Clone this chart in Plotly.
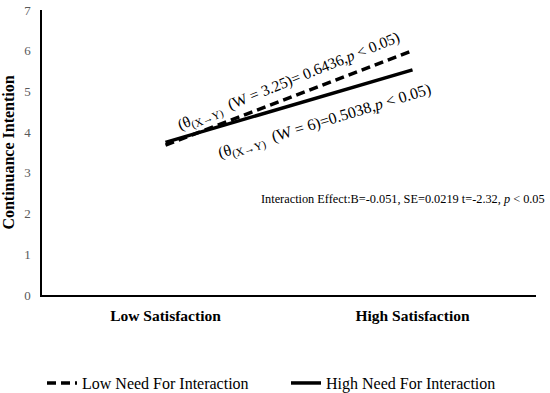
import plotly.graph_objects as go

categories = ["Low Satisfaction", "High Satisfaction"]
low_need = [3.68, 6.00]
high_need = [3.75, 5.53]
series_names = ["Low Need For Interaction", "High Need For Interaction"]
y_ticks = [0, 1, 2, 3, 4, 5, 6, 7]

FONT = "Liberation Serif, Times New Roman, serif"

fig = go.Figure()
fig.add_trace(go.Scatter(
    x=categories, y=low_need, mode="lines", name=series_names[0],
    line=dict(color="black", width=3.5, dash="9px,5px")))
fig.add_trace(go.Scatter(
    x=categories, y=high_need, mode="lines", name=series_names[1],
    line=dict(color="black", width=3.5)))

fig.add_annotation(
    x=0.50, y=5.23, xref="x", yref="y", showarrow=False, textangle=-22,
    text="(θ<sub>(X→Y)</sub>  (W = 3.25)= 0.6436,<i>p</i> < 0.05)",
    font=dict(family=FONT, size=15.5, color="black"))
fig.add_annotation(
    x=0.646, y=4.25, xref="x", yref="y", showarrow=False, textangle=-17,
    text="(θ<sub>(X→Y)</sub>  (W = 6)=0.5038,<i>p</i> < 0.05)",
    font=dict(family=FONT, size=16, color="black"))
fig.add_annotation(
    x=1.022, y=0.337, xref="paper", yref="paper", showarrow=False, xanchor="right",
    yanchor="middle",
    text="Interaction Effect:B=-0.051, SE=0.0219 t=-2.32, <i>p</i> < 0.05",
    font=dict(family=FONT, size=12.3, color="black"))

fig.update_layout(
    width=550, height=393,
    margin=dict(l=42, r=14, t=10, b=98, autoexpand=False),
    paper_bgcolor="white", plot_bgcolor="white",
    font=dict(family=FONT, color="black"),
    showlegend=True,
    legend=dict(orientation="h", x=0.0, xanchor="left", y=-0.309, yanchor="middle",
                font=dict(family=FONT, size=16, color="black"),
                entrywidth=199, entrywidthmode="pixels"),
    xaxis=dict(type="category", range=[-0.5, 1.5], showgrid=False, zeroline=False,
               showline=True, linecolor="black", linewidth=1.5, ticks="", automargin=False,
               ticklabelstandoff=6,
               tickfont=dict(family=FONT, size=15.5, color="black", weight="bold")),
    yaxis=dict(range=[0, 7], tickvals=y_ticks, showgrid=False, zeroline=False,
               showline=True, linecolor="black", linewidth=1.5, ticks="", automargin=False,
               ticklabelstandoff=7,
               tickfont=dict(family=FONT, size=13, color="#595959"),
               title=dict(text="<b>Continuance Intention</b>", standoff=10,
                          font=dict(family=FONT, size=16, color="black"))),
)

# remove the browser's default 8px body margin so the figure fills the window
fig.write_html("out.html", config={"displayModeBar": False},
               post_script="document.body.style.margin='0px';")
